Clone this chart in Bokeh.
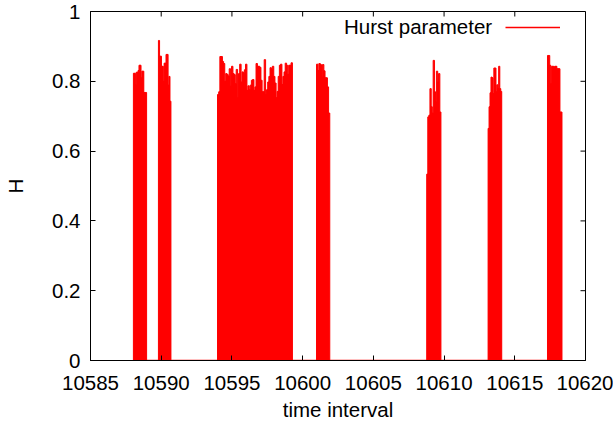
import numpy as np
from bokeh.plotting import figure
from bokeh.models import (ColumnDataSource, FixedTicker, Range1d,
                          Legend, LegendItem, Label)
from bokeh.embed import file_html
from bokeh.resources import INLINE

# ---- data ----
x_ticks = [10585, 10590, 10595, 10600, 10605, 10610, 10615, 10620]
y_ticks = [0, 0.2, 0.4, 0.6, 0.8, 1]
y_tick_labels = ["0", "0.2", "0.4", "0.6", "0.8", "1"]

series_name = "Hurst parameter"

# each burst: (first time, last time) and the H values in between
c1_span = (10588.04, 10588.96)
c1_h = [0.823, 0.823, 0.79, 0.826, 0.826, 0.831, 0.846, 0.846, 0.81, 0.829,
        0.829, 0.768, 0.768, 0.768]
c2_span = (10589.81, 10590.68)
c2_h = [0.917, 0.872, 0.872, 0.843, 0.843, 0.80, 0.852, 0.852, 0.877, 0.877,
        0.789, 0.814, 0.743]
c3_span = (10593.99, 10599.27)
c3_h = [0.762, 0.770, 0.871, 0.871, 0.857, 0.851, 0.800, 0.822, 0.819, 0.814,
        0.836, 0.786, 0.843, 0.822, 0.819, 0.793, 0.834, 0.753, 0.822, 0.849,
        0.798, 0.827, 0.822, 0.833, 0.849, 0.774, 0.787, 0.776, 0.789, 0.803,
        0.805, 0.774, 0.784, 0.851, 0.843, 0.843, 0.840, 0.803, 0.770, 0.770,
        0.862, 0.762, 0.776, 0.798, 0.814, 0.839, 0.833, 0.843, 0.814, 0.795,
        0.753, 0.771, 0.814, 0.846, 0.849, 0.791, 0.814, 0.827, 0.852, 0.846,
        0.820, 0.846, 0.846, 0.853]
c4_span = (10600.99, 10601.91)
c4_h = [0.849, 0.831, 0.851, 0.848, 0.812, 0.848, 0.83, 0.81, 0.81, 0.784, 0.709]
c5_span = (10608.78, 10609.77)
c5_h = [0.534, 0.698, 0.703, 0.779, 0.727, 0.709, 0.86, 0.77, 0.741, 0.829,
        0.798, 0.822, 0.712]
c6_span = (10613.12, 10614.07)
c6_h = [0.665, 0.727, 0.767, 0.812, 0.81, 0.765, 0.838, 0.838, 0.77, 0.79,
        0.78, 0.843, 0.779, 0.771]
c7_span = (10617.32, 10618.33)
c7_h = [0.874, 0.874, 0.846, 0.793, 0.843, 0.843, 0.841, 0.843, 0.843, 0.836,
        0.836, 0.836, 0.712, 0.712]

clusters = [(c1_span, c1_h), (c2_span, c2_h), (c3_span, c3_h), (c4_span, c4_h),
            (c5_span, c5_h), (c6_span, c6_h), (c7_span, c7_h)]

xs, hs, ws = [], [], []
for (t0, t1), h in clusters:
    n = len(h)
    w = (t1 - t0) / n
    for i, v in enumerate(h):
        xs.append(t0 + (i + 0.5) * w)
        hs.append(v)
        ws.append(w * 1.2)

src = ColumnDataSource(dict(x=xs, top=hs, w=ws))

FONT = "Liberation Sans"
FSIZE = "20.5px"
RED = "#ff0000"

W, H = 613, 425
MB_L, MB_R, MB_T, MB_B = 90, 28, 11, 65
frame_w = W - MB_L - MB_R
frame_h = H - MB_T - MB_B
TICK = 5

p = figure(width=W, height=H,
           x_range=Range1d(x_ticks[0], x_ticks[-1]),
           y_range=Range1d(y_ticks[0], y_ticks[-1]),
           output_backend="svg", toolbar_location=None,
           min_border_left=MB_L, min_border_right=MB_R,
           min_border_top=MB_T, min_border_bottom=MB_B)
p.background_fill_color = "white"
p.border_fill_color = "white"
p.outline_line_color = "black"
p.outline_line_width = 1
p.grid.visible = False

p.vbar(x="x", top="top", bottom=0, width="w", source=src,
       fill_color=RED, line_color=RED, line_width=1)

base = p.line(x=[min(xs), max(xs)], y=[0, 0], line_color=RED, line_width=1.5)

# mirrored inward ticks on the top and right edges
x_span = x_ticks[-1] - x_ticks[0]
y_span = y_ticks[-1] - y_ticks[0]
p.segment(x0=x_ticks, x1=x_ticks,
          y0=[y_ticks[-1]] * len(x_ticks),
          y1=[y_ticks[-1] - TICK * y_span / frame_h] * len(x_ticks),
          line_color="black", line_width=1)
p.segment(x0=[x_ticks[-1]] * len(y_ticks),
          x1=[x_ticks[-1] - TICK * x_span / frame_w] * len(y_ticks),
          y0=y_ticks, y1=y_ticks, line_color="black", line_width=1)

def style_axis(ax, ticks):
    ax.ticker = FixedTicker(ticks=ticks)
    ax.major_tick_in = TICK
    ax.major_tick_out = 0
    ax.minor_tick_line_color = None
    ax.axis_line_color = "black"
    ax.major_tick_line_color = "black"
    ax.major_label_text_font = FONT
    ax.major_label_text_font_size = FSIZE
    ax.major_label_text_color = "black"
    ax.axis_label_text_font = FONT
    ax.axis_label_text_font_size = FSIZE
    ax.axis_label_text_font_style = "normal"
    ax.axis_label_text_color = "black"

xa = p.xaxis[0]
style_axis(xa, x_ticks)
xa.major_label_standoff = 15
xa.axis_label = "time interval"
xa.axis_label_standoff = 5

ya = p.yaxis[0]
style_axis(ya, y_ticks)
ya.major_label_standoff = 10
ya.major_label_overrides = {t: l for t, l in zip(y_ticks, y_tick_labels)}
ya.axis_label = "H"
ya.axis_label_standoff = 22

legend = Legend(items=[LegendItem(label=" ", renderers=[base])],
                location="top_right", glyph_width=55, glyph_height=20,
                label_width=19, label_standoff=0, padding=0, margin=6,
                border_line_color=None, background_fill_alpha=0,
                label_text_font_size="2px")
p.add_layout(legend)

p.add_layout(Label(x=10613.4, y=0.956, text=series_name, text_align="right",
                   text_baseline="middle", text_font=FONT,
                   text_font_size=FSIZE, text_color="black"))

open("out.html", "w").write(file_html(p, INLINE))
